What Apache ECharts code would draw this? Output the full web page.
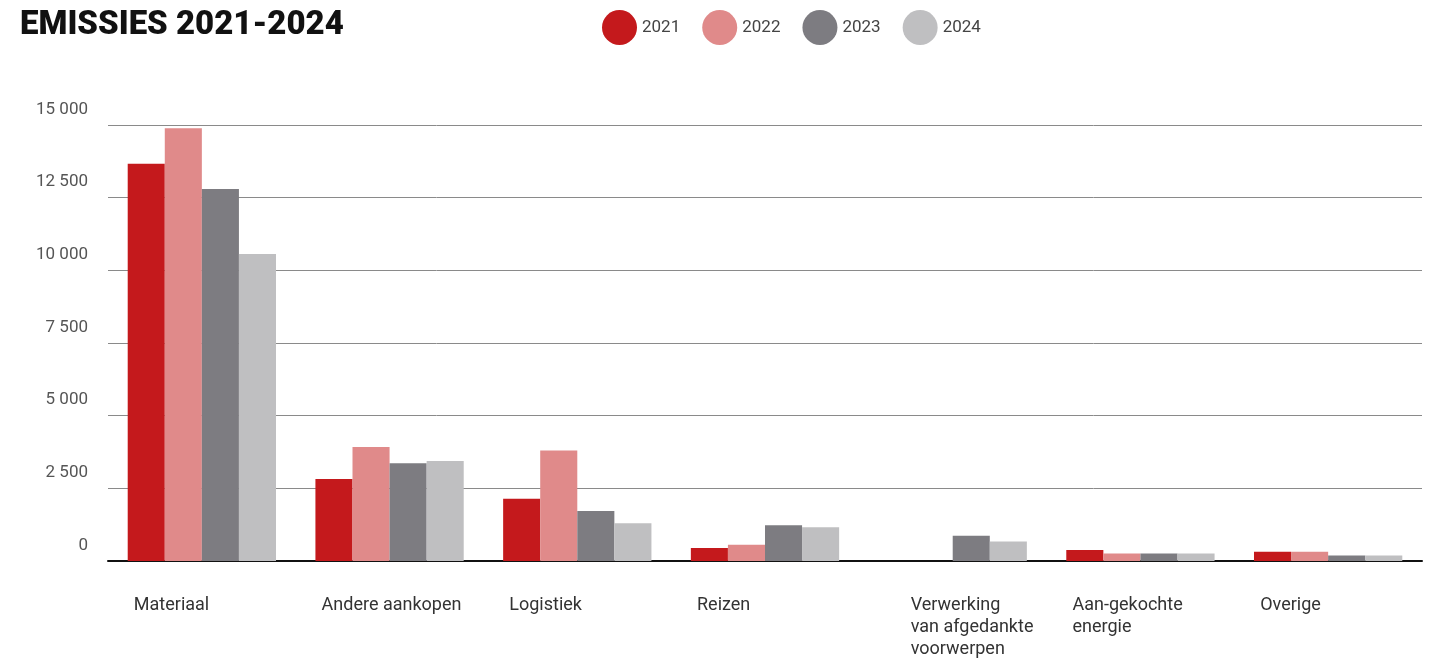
<!DOCTYPE html>
<html>
<head>
<meta charset="utf-8">
<script src="https://cdn.jsdelivr.net/npm/echarts@6/dist/echarts.min.js"></script>
<style>
html,body{margin:0;padding:0;background:#fff;}
#chart{width:1456px;height:658px;}
</style>
</head>
<body>
<div id="chart"></div>
<script>
const categories = ['Materiaal', 'Andere aankopen', 'Logistiek', 'Reizen', 'Verwerking\nvan afgedankte\nvoorwerpen', 'Aan-gekochte\nenergie', 'Overige'];
const seriesNames = ['2021', '2022', '2023', '2024'];
const values2021 = [13670, 2820, 2140, 450, null, 380, 320];
const values2022 = [14890, 3925, 3800, 560, null, 255, 320];
const values2023 = [12800, 3365, 1720, 1230, 865, 255, 190];
const values2024 = [10560, 3440, 1295, 1160, 670, 255, 190];
const yTickValues = [0, 2500, 5000, 7500, 10000, 12500, 15000];
const yTickLabels = ['0', '2 500', '5 000', '7 500', '10 000', '12 500', '15 000'];

const colors = ['#c4191c', '#e08a8a', '#7d7c81', '#bfbfc1'];
const allValues = [values2021, values2022, values2023, values2024];
const FONT = 'Roboto';

const chart = echarts.init(document.getElementById('chart'), null, {renderer: 'canvas'});
chart.setOption({
  animation: false,
  color: colors,
  title: {
    text: 'EMISSIES 2021-2024',
    left: 15, top: 4,
    textStyle: {fontFamily: FONT, fontWeight: 900, fontSize: 33, color: '#111'}
  },
  legend: {
    left: 597, top: 5,
    icon: 'circle',
    itemWidth: 35, itemHeight: 35,
    itemGap: 22,
    textStyle: {fontFamily: FONT, fontSize: 17, color: '#444'},
    data: seriesNames
  },
  grid: {left: 108, right: 34, top: 125, bottom: 90, containLabel: false},
  xAxis: {
    type: 'category',
    data: categories,
    axisLine: {lineStyle: {color: '#111', width: 2}},
    axisTick: {show: false},
    axisLabel: {
      margin: 33,
      interval: 0,
      formatter: function (v) {
        const key = v.indexOf('Verwerking') === 0 ? 'b' : 'a';
        return v.split('\n').map(l => '{' + key + '|' + l + '}').join('\n');
      },
      rich: {
        a: {width: 136, align: 'left', fontFamily: FONT, fontSize: 18, lineHeight: 22, color: '#333'},
        b: {width: 110, padding: [0, 0, 0, 26], align: 'left', fontFamily: FONT, fontSize: 18, lineHeight: 22, color: '#333'}
      }
    }
  },
  yAxis: {
    type: 'value',
    min: 0, max: 15000, interval: 2500,
    axisLine: {show: false},
    axisTick: {show: false},
    splitLine: {lineStyle: {color: '#8a8a8a', width: 1}},
    axisLabel: {
      margin: 20,
      verticalAlign: 'bottom',
      padding: [0, 0, 7, 0],
      fontFamily: FONT, fontSize: 17, color: '#555',
      formatter: function (v) {
        const i = yTickValues.indexOf(v);
        return i >= 0 ? yTickLabels[i] : '';
      }
    }
  },
  series: seriesNames.map((name, i) => ({
    name: name,
    type: 'bar',
    data: allValues[i],
    barGap: '0%',
    barCategoryGap: '21%',
    itemStyle: {color: colors[i]}
  }))
});
</script>
</body>
</html>
